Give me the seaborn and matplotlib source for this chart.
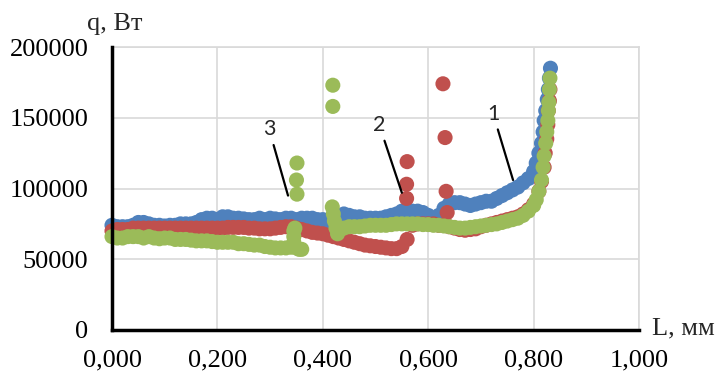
import pandas as pd
import matplotlib
matplotlib.use('Agg')
import matplotlib.pyplot as plt
import seaborn as sns

# series 1 (blue): L, mm and q, thousand W
blue_L = [0.00, 0.01, 0.02, 0.03, 0.04, 0.05, 0.06, 0.07, 0.08, 0.09,
          0.10, 0.11, 0.12, 0.13, 0.14, 0.15, 0.16, 0.17, 0.18, 0.19,
          0.20, 0.21, 0.22, 0.23, 0.24, 0.25, 0.26, 0.27, 0.28, 0.29,
          0.30, 0.31, 0.32, 0.33, 0.34, 0.35, 0.36, 0.37, 0.38, 0.39,
          0.40, 0.41, 0.42, 0.43, 0.44, 0.45, 0.46, 0.47, 0.48, 0.49,
          0.50, 0.51, 0.52, 0.53, 0.54, 0.55, 0.56, 0.57, 0.58, 0.59,
          0.60, 0.61, 0.62, 0.63, 0.64, 0.65, 0.66, 0.67, 0.68, 0.69,
          0.70, 0.71, 0.72, 0.73, 0.74, 0.75, 0.76, 0.77, 0.78, 0.79,
          0.80, 0.805, 0.81, 0.815, 0.818, 0.82, 0.823, 0.826, 0.828, 0.830, 0.832]
blue_q = [74, 73, 73, 73, 74, 76, 76, 75, 74, 74,
          73.5, 74, 74, 75, 75, 75, 76, 78, 79, 79,
          78, 80, 80, 79, 79, 78.5, 78, 78, 79, 78,
          79, 78.5, 78, 79, 79, 78, 79, 79, 79, 78,
          78, 77, 76, 78, 82, 81, 80, 80, 79, 79,
          79, 79, 80, 81, 82, 84, 85, 84, 84, 83,
          81, 78, 81, 86, 89, 90, 90, 89, 88, 89,
          90, 91, 91, 93, 95, 97, 99, 101, 104, 107,
          112, 118, 125, 132, 140, 148, 155, 163, 170, 178, 185]

# series 2 (red)
red_L = [0.00, 0.01, 0.02, 0.03, 0.04, 0.05, 0.06, 0.07, 0.08, 0.09,
         0.10, 0.11, 0.12, 0.13, 0.14, 0.15, 0.16, 0.17, 0.18, 0.19,
         0.20, 0.21, 0.22, 0.23, 0.24, 0.25, 0.26, 0.27, 0.28, 0.29,
         0.30, 0.31, 0.32, 0.33, 0.34, 0.35, 0.36, 0.37, 0.38, 0.39,
         0.40, 0.41, 0.42, 0.43, 0.44, 0.45, 0.46, 0.47, 0.48, 0.49,
         0.50, 0.51, 0.52, 0.53, 0.54, 0.55, 0.56, 0.57, 0.58, 0.59,
         0.60, 0.61, 0.62, 0.63, 0.64, 0.65, 0.66, 0.67, 0.68, 0.69,
         0.70, 0.71, 0.72, 0.73, 0.74, 0.75, 0.76, 0.77, 0.78, 0.79,
         0.80, 0.81, 0.815, 0.82, 0.822, 0.825, 0.827, 0.828, 0.830, 0.831,
         0.559, 0.559, 0.560, 0.628, 0.632, 0.634, 0.636]
red_q = [70, 71, 71, 71, 72, 72, 72, 72, 72, 72,
         72, 72, 72, 72, 72, 72, 72, 72, 72, 72,
         72, 72, 72.5, 72.5, 72.5, 72.5, 72, 72, 71.5, 71.5,
         71.5, 72, 72.5, 73, 73, 72, 71, 70, 69, 68.5,
         68, 67, 66, 65, 64, 63, 62, 61, 60, 59.5,
         59, 58.5, 58, 57.5, 57.5, 59, 64, 74, 75, 75,
         75, 75, 74, 74, 73, 72, 71, 70.5, 71, 71.5,
         73, 74, 75, 76, 77, 78, 79, 80, 82, 85,
         89, 98, 105, 115, 125, 135, 145, 155, 162, 170,
         93, 103, 119, 174, 136, 98, 83]

# series 3 (green)
green_L = [0.00, 0.01, 0.02, 0.03, 0.04, 0.05, 0.06, 0.07, 0.08, 0.09,
           0.10, 0.11, 0.12, 0.13, 0.14, 0.15, 0.16, 0.17, 0.18, 0.19,
           0.20, 0.21, 0.22, 0.23, 0.24, 0.25, 0.26, 0.27, 0.28, 0.29,
           0.30, 0.31, 0.32, 0.33, 0.34,
           0.345, 0.345, 0.345, 0.347, 0.350, 0.355, 0.360,
           0.351, 0.350, 0.351, 0.419, 0.419,
           0.418, 0.420, 0.422, 0.425, 0.428, 0.430,
           0.44, 0.45, 0.46, 0.47, 0.48, 0.49,
           0.50, 0.51, 0.52, 0.53, 0.54, 0.55, 0.56, 0.57, 0.58, 0.59,
           0.60, 0.61, 0.62, 0.63, 0.64, 0.65, 0.66, 0.67, 0.68, 0.69,
           0.70, 0.71, 0.72, 0.73, 0.74, 0.75, 0.76, 0.77, 0.78, 0.79,
           0.80, 0.805, 0.81, 0.815, 0.818, 0.82, 0.823, 0.825, 0.827, 0.828, 0.829, 0.830, 0.831]
green_q = [66, 65, 65, 66, 66, 66, 65, 66, 65, 64.5,
           65, 65, 64, 64, 64, 63.5, 63, 63, 63, 62.5,
           62, 62, 62, 62, 61, 61, 60.5, 60, 60, 59,
           58.5, 58, 58, 58, 58.5,
           62, 66, 70, 72, 58, 57, 57,
           118, 106, 96, 173, 158,
           87, 82, 77, 72, 68, 70,
           72, 73, 73, 73, 73.5, 74,
           74, 74, 74, 74.5, 75, 75, 75, 75, 75, 74.5,
           74.5, 74, 74, 73.5, 73, 72.5, 72, 72, 72.5, 73,
           73.5, 74, 74.5, 75, 76, 77, 78, 79, 81, 84,
           88, 92, 98, 106, 115, 123, 132, 140, 148, 155, 161, 170, 178]

series_names = ['1', '2', '3']
series_colors = ['#4F81BD', '#C0504D', '#9BBB59']

y_ticks = [0, 50000, 100000, 150000, 200000]
x_ticks = [0.0, 0.2, 0.4, 0.6, 0.8, 1.0]
x_tick_labels = ['0,000', '0,200', '0,400', '0,600', '0,800', '1,000']

# annotation labels: (label, text position, point the leader goes to)
notes = [('3', (0.298, 142000), (0.334, 95000)),
         ('2', (0.507, 145000), (0.550, 97000)),
         ('1', (0.723, 153000), (0.761, 106000))]

frames = []
for name, L, q in zip(series_names, [blue_L, red_L, green_L], [blue_q, red_q, green_q]):
    frames.append(pd.DataFrame({'L': L, 'q': [v * 1000 for v in q], 'series': name}))
df = pd.concat(frames, ignore_index=True)

sns.set_style('white')
plt.rcParams['font.family'] = ['Liberation Serif', 'DejaVu Serif']

fig = plt.figure(figsize=(7.18, 3.72), dpi=100)
ax = fig.add_axes([112 / 718, 42 / 372, 527 / 718, 283 / 372])

sns.scatterplot(data=df, x='L', y='q', hue='series', hue_order=series_names,
                palette=series_colors, s=118, linewidth=0, alpha=1,
                legend=False, ax=ax, clip_on=False, zorder=3)

ax.set_xlim(0, 1)
ax.set_ylim(0, 200000)
ax.set_xticks(x_ticks)
ax.set_xticklabels(x_tick_labels)
ax.set_yticks(y_ticks)
ax.set_yticklabels([str(v) for v in y_ticks])
ax.tick_params(axis='both', length=0, labelsize=19, colors='black')
ax.tick_params(axis='y', pad=17)
ax.tick_params(axis='x', pad=14)
ax.grid(True, color='#d9d9d9', linewidth=1.2)
ax.set_axisbelow(True)
ax.set_xlabel('')
ax.set_ylabel('')

for side in ['top', 'right']:
    ax.spines[side].set_color('#d9d9d9')
    ax.spines[side].set_linewidth(1.2)
for side in ['left', 'bottom']:
    ax.spines[side].set_color('black')
    ax.spines[side].set_linewidth(2.5)
    ax.spines[side].set_zorder(4)

ax.text(-0.047, 1.081, 'q, Вт', transform=ax.transAxes, fontsize=19,
        ha='left', va='center')
ax.text(1.025, 0.007, 'L, мм', transform=ax.transAxes, fontsize=19,
        ha='left', va='center')

for label, txt_pos, tip in notes:
    ax.annotate(label, xy=tip, xytext=txt_pos, ha='center', va='center',
                fontsize=15.5, family=['Lato', 'DejaVu Sans'],
                arrowprops=dict(arrowstyle='-', color='black', lw=1.6,
                                shrinkA=2, shrinkB=0), zorder=5)

fig.savefig('out.png', dpi=100)
